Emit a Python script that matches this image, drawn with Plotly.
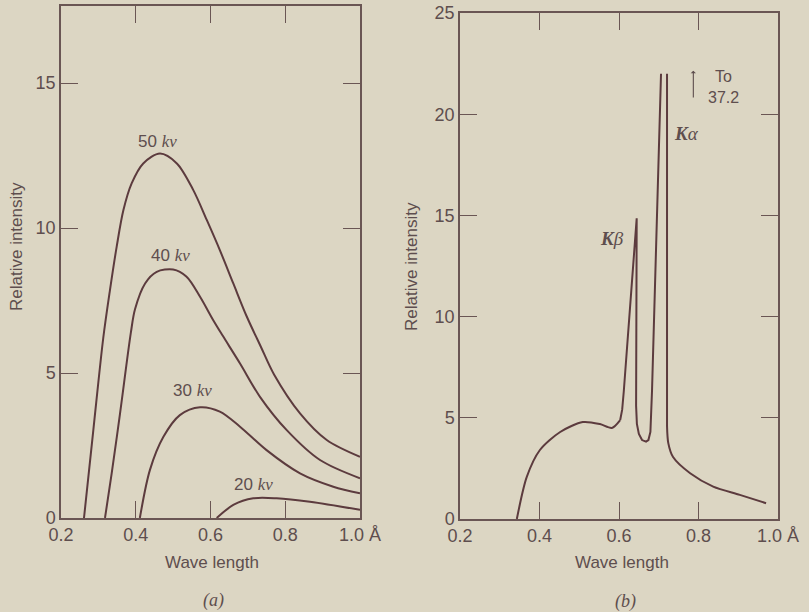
import plotly.graph_objects as go

# (a) continuous spectrum at several tube voltages
wl_50 = [0.2615, 0.2865, 0.313, 0.331, 0.349, 0.367, 0.389, 0.420, 0.465, 0.51, 0.554, 0.59, 0.625,
         0.661, 0.697, 0.735, 0.77, 0.8395, 0.911, 1.0]
i_50 = [0, 3.03, 6.2, 7.86, 9.36, 10.62, 11.54, 12.23, 12.57, 12.23, 11.31, 10.28, 9.24,
        8.09, 6.95, 5.9, 4.95, 3.61, 2.69, 2.11]
wl_40 = [0.3177, 0.3356, 0.358, 0.387, 0.398, 0.425, 0.456, 0.5, 0.536, 0.572, 0.607, 0.632,
         0.679, 0.7324, 0.804, 0.893, 1.0]
i_40 = [0, 1.54, 3.61, 6.4, 7.2, 8.09, 8.49, 8.57, 8.32, 7.63, 6.83, 6.3,
        5.33, 4.18, 3.03, 2.0, 1.37]
wl_30 = [0.411, 0.438, 0.474, 0.518, 0.572, 0.625, 0.679, 0.75, 0.8395, 0.9286, 1.0]
i_30 = [0, 1.66, 2.8, 3.55, 3.82, 3.67, 3.15, 2.34, 1.54, 1.08, 0.85]
wl_20 = [0.6166, 0.661, 0.7144, 0.777, 0.866, 1.0]
i_20 = [0, 0.45, 0.68, 0.68, 0.56, 0.28]

curves_a = [("50", wl_50, i_50), ("40", wl_40, i_40), ("30", wl_30, i_30), ("20", wl_20, i_20)]
label_pos_a = {"50": (0.457, 12.97), "40": (0.492, 9.07), "30": (0.553, 4.41), "20": (0.714, 1.14)}

# (b) spectrum with K lines (K alpha cut off at 22, really goes to 37.2)
wl_cont = [0.343, 0.368, 0.401, 0.452, 0.509, 0.552, 0.582, 0.603]
i_cont = [0, 2.08, 3.41, 4.3, 4.79, 4.69, 4.5, 4.89]
wl_lines = [0.603, 0.608, 0.612, 0.623, 0.6445, 0.643, 0.645, 0.650, 0.658, 0.668, 0.674, 0.679,
            0.681, 0.683, 0.7057, None, 0.7208, 0.7208]
i_lines = [4.89, 5.4, 6.3, 9.2, 14.86, 5.6, 4.7, 4.2, 3.9, 3.82, 3.9, 4.3,
           5.0, 6.3, 22.0, None, 22.0, 4.6]
wl_tail = [0.7208, 0.724, 0.736, 0.779, 0.837, 0.904, 0.97]
i_tail = [4.6, 3.75, 3.06, 2.26, 1.6, 1.19, 0.78]

x_ticks = [0.2, 0.4, 0.6, 0.8, 1.0]
x_ticktext = ["0.2", "0.4", "0.6", "0.8", "1.0 Å"]

bg = "#dcd6c3"
ink = "#5c3b3e"
frame = "#6a5654"
txt = "#5e4e4e"
sans = "Liberation Sans"
serif = "Liberation Serif"

fig = go.Figure()
for name, x, y in curves_a:
    fig.add_trace(go.Scatter(x=x, y=y, mode="lines", line=dict(color=ink, width=2, shape="spline", smoothing=0.9),
                             xaxis="x", yaxis="y", showlegend=False, hoverinfo="skip"))
for x, y, shape in [(wl_cont, i_cont, "spline"), (wl_lines, i_lines, "linear"), (wl_tail, i_tail, "spline")]:
    fig.add_trace(go.Scatter(x=x, y=y, mode="lines", line=dict(color=ink, width=2, shape=shape, smoothing=0.8),
                             xaxis="x2", yaxis="y2", showlegend=False, hoverinfo="skip", connectgaps=False))

ax_common = dict(showgrid=False, zeroline=False, showline=True, mirror="ticks", linecolor=frame, linewidth=1.5,
                 ticks="inside", ticklen=17, tickwidth=1.2, tickcolor=frame, automargin=False,
                 tickfont=dict(family=sans, size=18, color=txt))

fig.update_layout(
    width=809, height=612,
    paper_bgcolor=bg, plot_bgcolor=bg,
    margin=dict(l=0, r=0, t=0, b=0),
    xaxis=dict(domain=[61/809, 360/809], range=[0.2, 1.0], tickvals=x_ticks, ticktext=x_ticktext, anchor="y", **ax_common),
    yaxis=dict(domain=[1-518/612, 1-6/612], range=[0, 17.66], tickvals=[0, 5, 10, 15], anchor="x", **ax_common),
    xaxis2=dict(domain=[460/809, 778/809], range=[0.2, 1.0], tickvals=x_ticks, ticktext=x_ticktext, anchor="y2", **ax_common),
    yaxis2=dict(domain=[1-519/612, 1-13/612], range=[0, 25.0], tickvals=[0, 5, 10, 15, 20, 25], anchor="x2", **ax_common),
)

ann = []
for name, (lx, ly) in label_pos_a.items():
    ann.append(dict(x=lx, y=ly, xref="x", yref="y", showarrow=False,
                    text=name + " <span style='font-family:" + serif + "'><i>kv</i></span>",
                    font=dict(family=sans, size=17, color=txt)))

ann += [
    dict(x=0.582, y=13.88, xref="x2", yref="y2", showarrow=False, text="<b><i>K</i></b><i>β</i>",
         font=dict(family=serif, size=19, color=txt)),
    dict(x=0.771, y=19.07, xref="x2", yref="y2", showarrow=False, text="<b><i>K</i></b><i>α</i>",
         font=dict(family=serif, size=19, color=txt)),
    dict(x=0.862, y=21.34, xref="x2", yref="y2", showarrow=False, text="To<br>37.2", align="center",
         font=dict(family=sans, size=16, color=txt)),
    dict(x=0.787, y=22.15, xref="x2", yref="y2", ax=0.787, ay=20.75, axref="x2", ayref="y2",
         showarrow=True, arrowhead=1, arrowsize=0.8, arrowwidth=1.1, arrowcolor=txt, text=""),
    dict(x=16/809, y=1-247/612, xref="paper", yref="paper", showarrow=False, textangle=-90,
         text="Relative intensity", font=dict(family=sans, size=17, color=txt)),
    dict(x=411/809, y=1-267/612, xref="paper", yref="paper", showarrow=False, textangle=-90,
         text="Relative intensity", font=dict(family=sans, size=17, color=txt)),
    dict(x=212/809, y=1-562/612, xref="paper", yref="paper", showarrow=False,
         text="Wave length", font=dict(family=sans, size=17, color=txt)),
    dict(x=622/809, y=1-562/612, xref="paper", yref="paper", showarrow=False,
         text="Wave length", font=dict(family=sans, size=17, color=txt)),
    dict(x=213/809, y=1-600/612, xref="paper", yref="paper", showarrow=False,
         text="<i>(a)</i>", font=dict(family=serif, size=18, color=txt)),
    dict(x=625/809, y=1-601/612, xref="paper", yref="paper", showarrow=False,
         text="<i>(b)</i>", font=dict(family=serif, size=18, color=txt)),
]
for a in ann:
    a["xanchor"] = "center"
    a["yanchor"] = "middle"
fig.update_layout(annotations=ann)

# drop the default 8px page margin so the figure sits at the window's corner
fig.write_html("out.html", config={"displayModeBar": False},
               post_script="document.body.style.margin='0';")
